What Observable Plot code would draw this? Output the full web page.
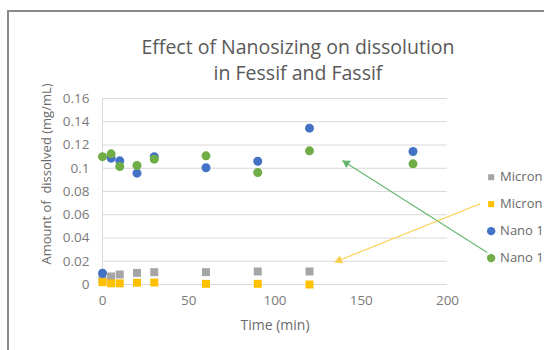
<!DOCTYPE html>
<html>
<head>
<meta charset="utf-8">
<script src="https://cdn.jsdelivr.net/npm/d3@7"></script>
<script src="https://cdn.jsdelivr.net/npm/@observablehq/plot@0.6"></script>
<style>
  html, body { margin: 0; padding: 0; background: #fff; overflow: hidden; }
  #wrap { position: relative; width: 544px; height: 350px; }
  #edge { position: absolute; left: 7px; top: 10px; right: -4px; bottom: -4px;
          border-top: 2px solid #8a8a8a; border-left: 2px solid #8a8a8a; pointer-events: none; }
</style>
</head>
<body>
<div id="wrap"><div id="edge"></div></div>
<script>
// Sampling times (min)
const timesMicron = [0, 5, 10, 20, 30, 60, 90, 120];
const timesNano = [0, 5, 10, 20, 30, 60, 90, 120, 180];

// Amount dissolved (mg/mL)
const micronFessif = [0.004, 0.0069, 0.0086, 0.0100, 0.0106, 0.0106, 0.0112, 0.0112];
const micronFassif = [0.0020, 0.0010, 0.0010, 0.0015, 0.0017, 0.0006, 0.0006, 0.0000];
const nanoFessif = [0.0097, 0.1087, 0.1064, 0.0958, 0.1100, 0.1004, 0.1060, 0.1345, 0.1144];
const nanoFassif = [0.1100, 0.1124, 0.1015, 0.1024, 0.1078, 0.1107, 0.0963, 0.1150, 0.1038];

const seriesNames = ["Micron Fessif", "Micron Fassif", "Nano 1 Fessif", "Nano 1 Fassif"];
const seriesColors = ["#a5a5a5", "#ffc000", "#4472c4", "#70ad47"];
const seriesSymbols = ["square", "square", "circle", "circle"];

const xTicks = [0, 50, 100, 150, 200];
const yTicks = [0, 0.02, 0.04, 0.06, 0.08, 0.1, 0.12, 0.14, 0.16];

const titleLines = ["Effect of Nanosizing on dissolution", "in Fessif and Fassif"];
const xLabel = "Time (min)";
const yLabel = "Amount of  dissolved (mg/mL)";

// Callout arrows from the legend entries to the curves
const arrows = [
  {x1: 223, y1: 0.0275, x2: 139, y2: 0.1067, color: "#63b86e"},
  {x1: 219, y1: 0.0694, x2: 134.5, y2: 0.0192, color: "#f7cf4a"}
];

// Frame geometry
const W = 544, H = 350, ML = 102, MR = 97, MT = 98, MB = 66;
const xDomain = [0, 200], yDomain = [0, 0.16];
const kx = (W - ML - MR) / (xDomain[1] - xDomain[0]);
const ky = (H - MT - MB) / (yDomain[1] - yDomain[0]);

const rows = (times, values, s) => times.map((t, i) => ({time: t, value: values[i], series: s}));
const points = [
  ...rows(timesMicron, micronFessif, 0),
  ...rows(timesMicron, micronFassif, 1),
  ...rows(timesNano, nanoFessif, 2),
  ...rows(timesNano, nanoFassif, 3)
];

// Arrowheads: a triangle rotated along the arrow, pulled back so its tip sits on the end point
const headR = 3.2;
const tipDist = 2 * Math.sqrt((Math.PI * headR * headR) / (3 * Math.sqrt(3)));
const heads = arrows.map(a => {
  const dx = (a.x2 - a.x1) * kx, dy = -(a.y2 - a.y1) * ky;
  const len = Math.hypot(dx, dy);
  const ux = dx / len, uy = dy / len;
  return {
    x: a.x2 - (ux * tipDist) / kx,
    y: a.y2 + (uy * tipDist) / ky,
    angle: Math.atan2(ux, -uy) * 180 / Math.PI,
    color: a.color
  };
});

// Legend placed to the right of the frame
const legendX = 225.3, legendTextX = 230.5;
const legend = seriesNames.map((name, i) => ({name, i, y: 0.0923 - i * 0.0232}));

const font = "'Open Sans', Lato, sans-serif";
const marks = [
  Plot.ruleY(yTicks, {stroke: "#d9d9d9", strokeWidth: 1}),
  Plot.ruleX([0], {stroke: "#d9d9d9", strokeWidth: 1}),
  ...[0, 1, 2, 3].map(s => Plot.dot(points.filter(d => d.series === s), {
    x: "time", y: "value", r: 4.5, symbol: seriesSymbols[s], fill: seriesColors[s], stroke: "none"
  })),
  ...arrows.map(a => Plot.link([a], {x1: "x1", y1: "y1", x2: "x2", y2: "y2", stroke: a.color, strokeWidth: 1.1})),
  ...heads.map(h => Plot.dot([h], {x: "x", y: "y", symbol: "triangle", r: headR, fill: h.color, stroke: "none", rotate: h.angle})),
  ...legend.map(l => Plot.dot([l], {x: () => legendX, y: "y", symbol: seriesSymbols[l.i], r: seriesSymbols[l.i] === "square" ? 3.4 : 4.2, fill: seriesColors[l.i], stroke: "none"})),
  Plot.text(legend, {x: () => legendTextX, y: "y", text: "name", textAnchor: "start", fill: "#6a6a6a", fontSize: 13}),
  Plot.text([titleLines[0]], {frameAnchor: "top", lineAnchor: "middle", dx: 23, dy: -51, fontSize: 19.5, fill: "#595959"}),
  Plot.text([titleLines[1]], {frameAnchor: "top", lineAnchor: "middle", dx: 23, dy: -25, fontSize: 19.5, fill: "#595959"}),
  Plot.text([yLabel], {frameAnchor: "left", textAnchor: "middle", lineAnchor: "middle", dx: -56, dy: -17.5, rotate: -90, fontSize: 13, fill: "#6a6a6a"}),
  Plot.text([xLabel], {frameAnchor: "bottom", textAnchor: "middle", lineAnchor: "middle", dy: 41, fontSize: 14, fill: "#6a6a6a"})
];

const chart = Plot.plot({
  width: W, height: H,
  marginLeft: ML, marginRight: MR, marginTop: MT, marginBottom: MB,
  style: {fontFamily: font, fontSize: "13.5px", color: "#7a7a7a", background: "transparent", overflow: "visible"},
  x: {domain: xDomain, ticks: xTicks, tickSize: 0, tickPadding: 11, label: null},
  y: {domain: yDomain, ticks: yTicks, tickSize: 0, tickPadding: 13, label: null, tickFormat: d => String(d)},
  marks
});
document.getElementById("wrap").prepend(chart);
</script>
</body>
</html>
